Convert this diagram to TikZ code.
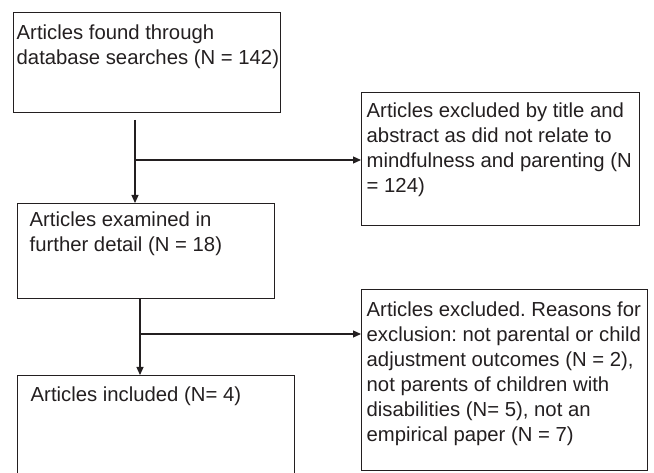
\documentclass[tikz,border=0pt]{standalone}
\usepackage{fontspec}
\setmainfont{Liberation Sans}
\usetikzlibrary{arrows.meta}
\definecolor{ink}{HTML}{231F20}
\tikzset{
  box/.style={draw=ink, line width=1.1pt, rectangle, inner sep=0pt, anchor=north west},
  label/.style={anchor=base west, inner sep=0pt, text=ink},
  arr/.style={draw=ink, line width=1.1pt, -{Triangle[length=8pt,width=7pt]}},
  ln/.style={draw=ink, line width=1.1pt}
}
\frenchspacing
\newcommand{\boxtext}[1]{\parbox[t]{330pt}{\fontsize{20.3}{25}\selectfont #1}}
\begin{document}
\begin{tikzpicture}[x=1pt,y=-1pt]
\useasboundingbox (0,0) rectangle (654,473);
% boxes
\node[box, minimum width=267pt, minimum height=100pt] (b1) at (13,12) {};
\node[box, minimum width=257pt, minimum height=95pt] (b2) at (17,203) {};
\node[box, minimum width=278pt, minimum height=133pt] (b3) at (361,92) {};
\node[box, minimum width=277pt, minimum height=104pt] (b4) at (17,375) {};
\node[box, minimum width=286pt, minimum height=181pt] (b5) at (361,289) {};
% texts
\node[label] (t1) at (16.5,40) {\boxtext{Articles found through\\database searches (N = 142)}};
\node[label] (t2) at (29.5,227) {\boxtext{Articles examined in\\further detail (N = 18)}};
\node[label] (t3) at (366.5,118) {\boxtext{Articles excluded by title and\\abstract as did not relate to\\mindfulness and parenting (N\\= 124)}};
\node[label] (t4) at (30.5,402) {\boxtext{Articles included (N= 4)}};
\node[label] (t5) at (366.5,317) {\boxtext{Articles excluded. Reasons for\\exclusion: not parental or child\\adjustment outcomes (N = 2),\\not parents of children with\\disabilities (N= 5), not an\\empirical paper (N = 7)}};
% connectors
\coordinate (s1) at (135,120);
\coordinate (j1) at (135,160);
\draw[arr] (s1) -- (s1 |- b2.north);
\draw[arr] (j1) -- (j1 -| b3.west);
\coordinate (s2) at (b2.south -| 140,0);
\coordinate (j2) at (140,334);
\draw[arr] (s2) -- (s2 |- b4.north);
\draw[arr] (j2) -- (j2 -| b5.west);
\end{tikzpicture}
\end{document}
